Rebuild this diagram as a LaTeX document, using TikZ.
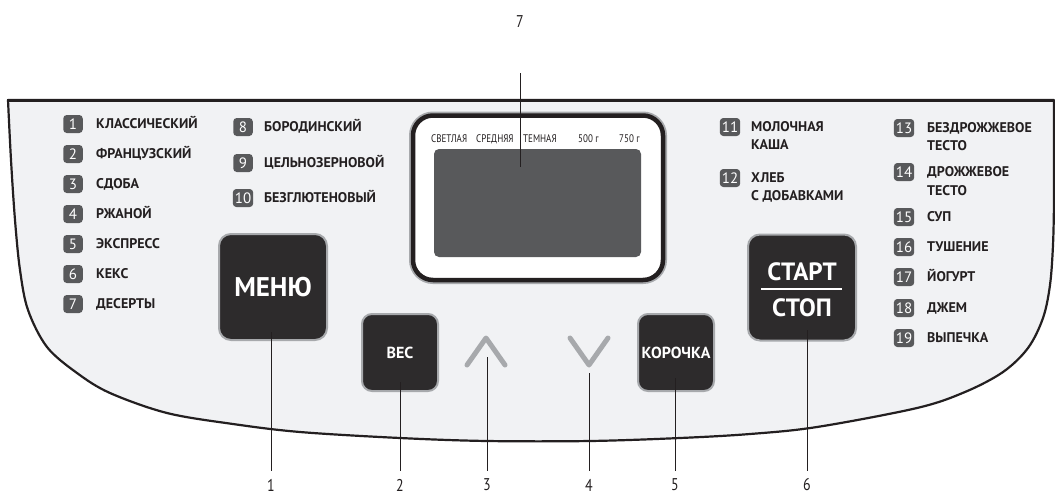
\documentclass[tikz,border=0pt]{standalone}
\usepackage{fontspec}
\setmainfont{PT Sans}
\newfontfamily\narrowfont[FakeStretch=0.82]{PT Sans}
\definecolor{panelfill}{HTML}{F1F2F4}
\definecolor{ink}{HTML}{231F20}
\definecolor{btnfill}{HTML}{2D2B2C}
\definecolor{btnedge}{HTML}{A7A9AC}
\definecolor{badgefill}{HTML}{58595B}
\definecolor{screenfill}{HTML}{58595B}
\definecolor{chevcol}{HTML}{A7A9AC}
\begin{document}
\begin{tikzpicture}[x=1pt,y=-1pt,
  item/.style={font=\fontsize{14}{16}\selectfont\bfseries, text=ink, anchor=base west, inner sep=0pt},
  badge/.style={fill=badgefill, rounded corners=3.5pt, text=white, font=\fontsize{15}{17}\selectfont, minimum width=19.5pt, minimum height=18pt, inner xsep=2pt, inner ysep=1pt, text height=10.5pt, text depth=0pt},
  bigbtn/.style={fill=btnfill, draw=btnedge, line width=2pt, rounded corners=12pt, text=white, font=\fontsize{27}{30}\selectfont\bfseries, minimum width=108pt, minimum height=106pt},
  smallbtn/.style={fill=btnfill, draw=btnedge, line width=2pt, rounded corners=10pt, text=white, font=\fontsize{16}{18}\selectfont\bfseries, minimum width=76pt, minimum height=77pt},
  btntext/.style={text=white, font=\fontsize{25}{28}\selectfont\bfseries, inner sep=0pt},
  disp/.style={font=\narrowfont\fontsize{11}{13}\selectfont, text=ink, anchor=base west, inner sep=0pt},
  callout/.style={font=\narrowfont\fontsize{17}{19}\selectfont, text=ink, inner sep=0pt},
  conn/.style={draw=ink, line width=0.9pt},
  chev/.style={draw=chevcol, line width=5pt, line cap=round, line join=round}
]
\useasboundingbox (0,0) rectangle (1055,496);
\fill[white] (0,0) rectangle (1055,496);

% panel outline
\draw[ink, line width=2.2pt, fill=panelfill, line join=round]
  plot[smooth, tension=0.55] coordinates {(8,100) (11,160) (15,220) (20,270) (28,310) (47,347) (77,373) (110,393) (167,413) (233,424) (300,432) (400,438) (487,441) (590,441) (680,438) (750,434) (817,427) (917,408) (965,392) (1003,372) (1028,348) (1043,318) (1050,285) (1053,245) (1054,200) (1054,150)}
  -- (1054,100) -- cycle;
\draw[ink, line width=3pt] (8,100) -- (1054,100);

% display
\node[draw=ink, line width=4.5pt, fill=white, rounded corners=20pt, minimum width=250pt, minimum height=164.5pt, inner sep=0pt,
      preaction={draw=btnedge, line width=8pt, rounded corners=20pt}] (display) at (538,197.75) {};
\node[fill=screenfill, rounded corners=5pt, minimum width=207pt, minimum height=108pt, inner sep=0pt] (screen) at (537.5,203) {};
\node[disp] (dl1) at (431,142) {СВЕТЛАЯ};
\node[disp] (dl2) at (476,142) {СРЕДНЯЯ};
\node[disp] (dl3) at (523,142) {ТЕМНАЯ};
\node[disp] (dl4) at (578,142) {500 г};
\node[disp] (dl5) at (619,142) {750 г};

% list 1
\node[badge] (b1) at (73,124) {1};  \node[item] (t1) at (96,128) {КЛАССИЧЕСКИЙ};
\node[badge] (b2) at (73,154) {2};  \node[item] (t2) at (96,158) {ФРАНЦУЗСКИЙ};
\node[badge] (b3) at (73,184) {3};  \node[item] (t3) at (96,188) {СДОБА};
\node[badge] (b4) at (73,214) {4};  \node[item] (t4) at (96,218) {РЖАНОЙ};
\node[badge] (b5) at (73,244) {5};  \node[item] (t5) at (96,248) {ЭКСПРЕСС};
\node[badge] (b6) at (73,274) {6};  \node[item] (t6) at (96,278) {КЕКС};
\node[badge] (b7) at (73,304) {7};  \node[item] (t7) at (96,308) {ДЕСЕРТЫ};

% list 2
\node[badge] (b8) at (243,127) {8};   \node[item] (t8) at (264,131) {БОРОДИНСКИЙ};
\node[badge] (b9) at (243,163) {9};   \node[item] (t9) at (264,167) {ЦЕЛЬНОЗЕРНОВОЙ};
\node[badge] (b10) at (243,198) {10}; \node[item] (t10) at (264,202) {БЕЗГЛЮТЕНОВЫЙ};

% list 3
\node[badge] (b11) at (730,127) {11}; \node[item] (t11a) at (751,131) {МОЛОЧНАЯ};
\node[item] (t11b) at (751,149) {КАША};
\node[badge] (b12) at (730,178) {12}; \node[item] (t12a) at (751,182) {ХЛЕБ};
\node[item] (t12b) at (751,200) {С ДОБАВКАМИ};

% list 4
\node[badge] (b13) at (904,128) {13}; \node[item] (t13a) at (927,132) {БЕЗДРОЖЖЕВОЕ};
\node[item] (t13b) at (927,150) {ТЕСТО};
\node[badge] (b14) at (904,172) {14}; \node[item] (t14a) at (927,176) {ДРОЖЖЕВОЕ};
\node[item] (t14b) at (927,195) {ТЕСТО};
\node[badge] (b15) at (904,217) {15}; \node[item] (t15) at (927,221) {СУП};
\node[badge] (b16) at (904,247) {16}; \node[item] (t16) at (927,251) {ТУШЕНИЕ};
\node[badge] (b17) at (904,277) {17}; \node[item] (t17) at (927,281) {ЙОГУРТ};
\node[badge] (b18) at (904,308) {18}; \node[item] (t18) at (927,312) {ДЖЕМ};
\node[badge] (b19) at (904,338) {19}; \node[item] (t19) at (927,342) {ВЫПЕЧКА};

% buttons
\node[bigbtn] (menu) at (273,287) {МЕНЮ};
\node[smallbtn] (ves) at (400,352.5) {ВЕС};
\node[smallbtn] (korochka) at (676,352.5) {КОРОЧКА};
\node[bigbtn] (start) at (802,287.5) {};
\node[btntext] (startt) at (802,272) {СТАРТ};
\node[btntext] (stopt) at (802,307.5) {СТОП};
\draw[white, line width=2pt] (761,289) -- (842,289);

% chevrons
\draw[chev] (467,365) -- (486,338) -- (505,365);
\draw[chev] (570,338) -- (589,365) -- (608,338);

% callouts
\node[callout] (n1) at (271,485) {1};
\node[callout] (n2) at (400,485) {2};
\node[callout] (n3) at (487,485) {3};
\node[callout] (n4) at (589,485) {4};
\node[callout] (n5) at (675,485) {5};
\node[callout] (n6) at (807,485) {6};
\node[callout] (n7) at (520,22) {7};

\coordinate (p1) at (271,332);
\coordinate (p2) at (400,382);
\coordinate (p3) at (487,357);
\coordinate (p4) at (589,373);
\coordinate (p5) at (675,378);
\coordinate (p6) at (807,330);
\coordinate (p7) at (520,167);

\draw[conn, shorten >=8pt] (p1) -- (n1.north);
\draw[conn, shorten >=8pt] (p2) -- (n2.north);
\draw[conn, shorten >=8pt] (p3) -- (n3.north);
\draw[conn, shorten >=8pt] (p4) -- (n4.north);
\draw[conn, shorten >=8pt] (p5) -- (n5.north);
\draw[conn, shorten >=8pt] (p6) -- (n6.north);
\draw[conn, shorten <=45pt] (n7.south) -- (p7);
\end{tikzpicture}
\end{document}
